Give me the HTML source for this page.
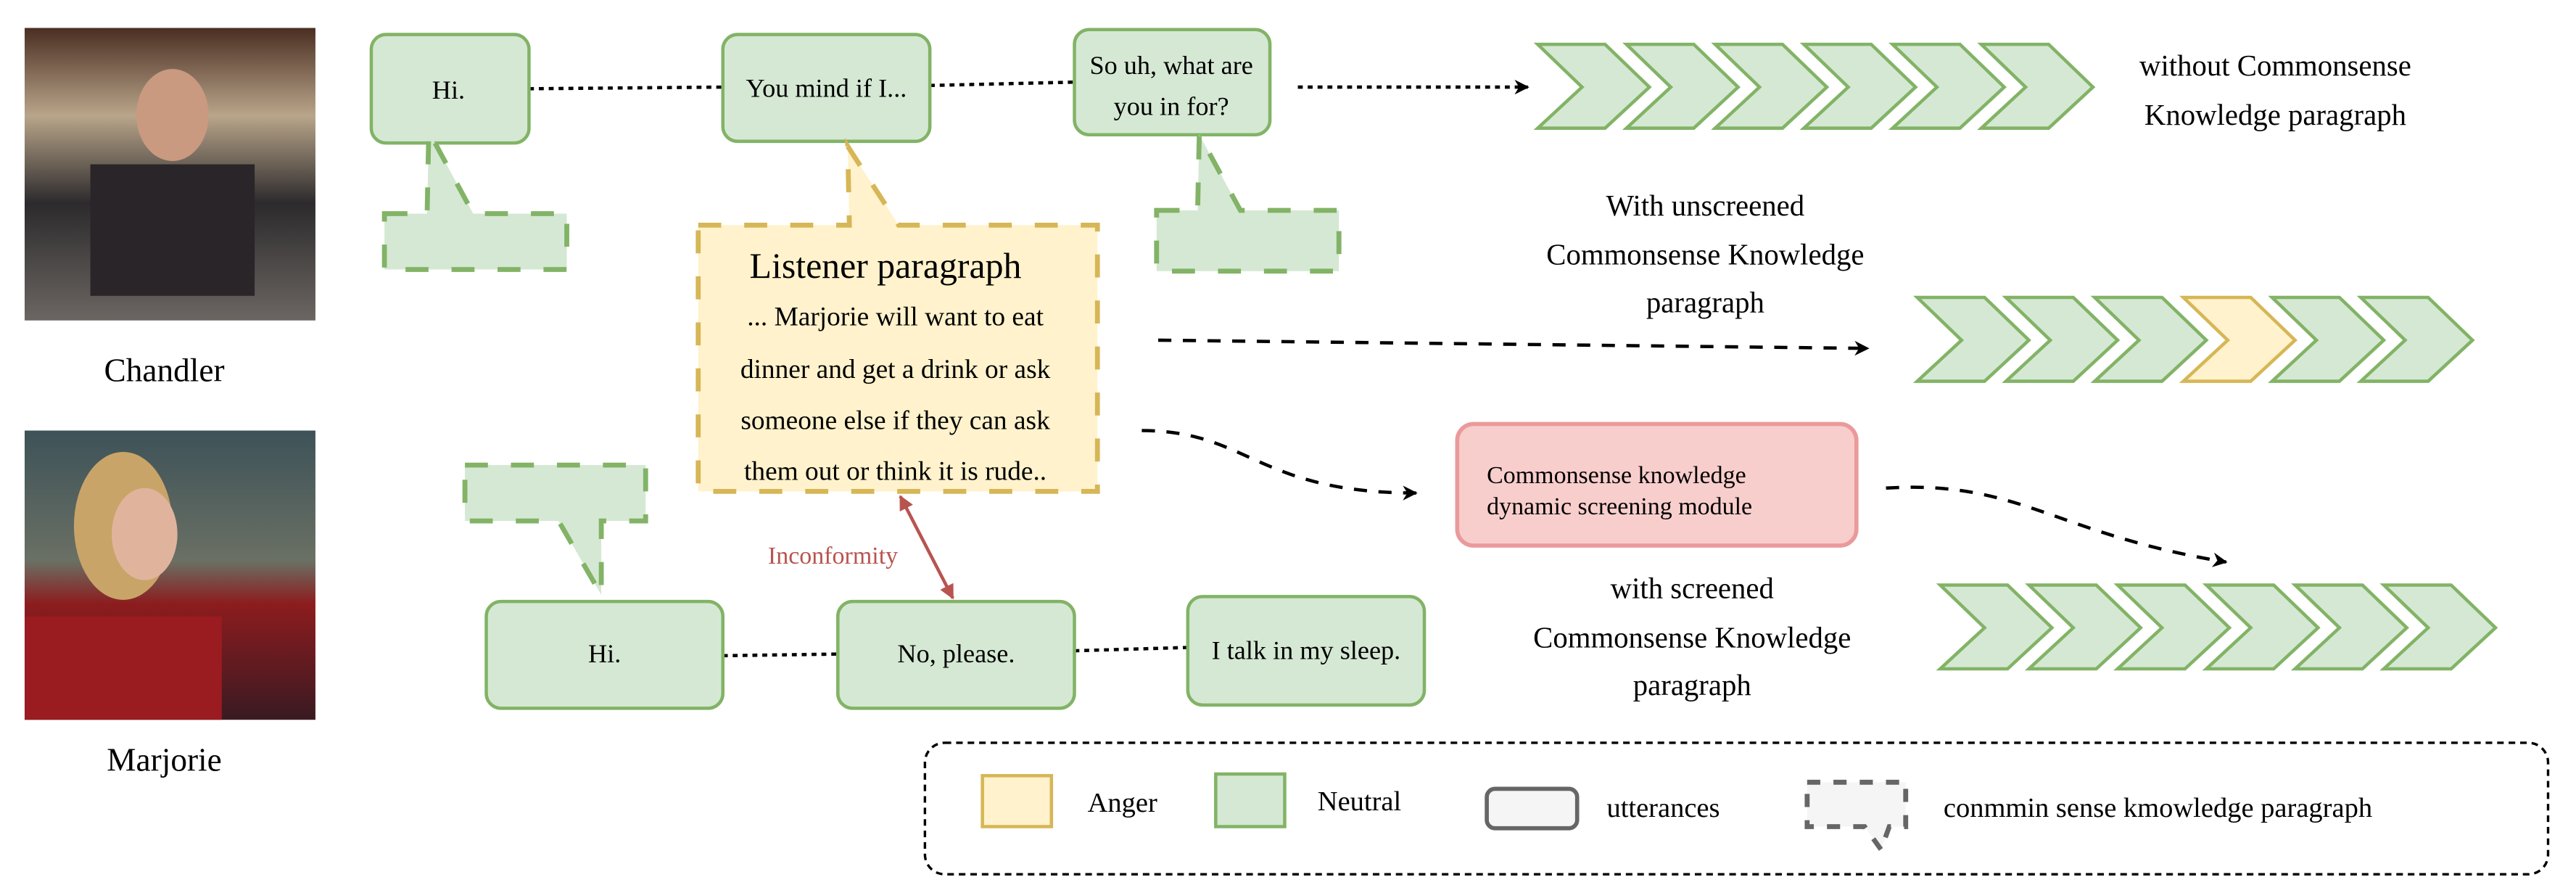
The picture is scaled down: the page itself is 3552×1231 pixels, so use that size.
<!DOCTYPE html>
<html><head><meta charset="utf-8"><style>
html,body{margin:0;padding:0;background:#fff;}
svg{display:block;font-family:"Liberation Serif","DejaVu Serif",serif;}
svg text{font-family:"Liberation Serif","DejaVu Serif",serif;}
</style></head><body>
<svg width="3552" height="1231" viewBox="0 0 1568 543.4" preserveAspectRatio="none" xmlns="http://www.w3.org/2000/svg" font-family="Liberation Serif, serif">
<defs>
<marker id="ah" viewBox="0 0 10 10" refX="9" refY="5" markerWidth="9" markerHeight="9" orient="auto" markerUnits="userSpaceOnUse"><path d="M0,0 L10,5 L0,10 L3,5 Z" fill="#000"/></marker>
<marker id="rh" viewBox="0 0 10 10" refX="9" refY="5" markerWidth="9" markerHeight="9" orient="auto-start-reverse" markerUnits="userSpaceOnUse"><path d="M0,0 L10,5 L0,10 Z" fill="#b85450"/></marker>
<linearGradient id="cg" x1="0" y1="0" x2="0" y2="1"><stop offset="0" stop-color="#4a2e22"/><stop offset="0.3" stop-color="#b9a58a"/><stop offset="0.6" stop-color="#2c2a2c"/><stop offset="1" stop-color="#6b6662"/></linearGradient>
<linearGradient id="mg" x1="0" y1="0" x2="0" y2="1"><stop offset="0" stop-color="#3d5258"/><stop offset="0.45" stop-color="#6a7064"/><stop offset="0.6" stop-color="#8c1c1e"/><stop offset="1" stop-color="#3a1a22"/></linearGradient>
<g id="chev"><path d="M0,0 L41,0 L68,26 L41,51 L0,51 L27,26 Z" stroke="#82b366" stroke-width="2" fill="#d5e8d4"/></g>
</defs>

<rect x="15" y="17" width="177" height="178" fill="url(#cg)"/>
<ellipse cx="105" cy="70" rx="22" ry="28" fill="#c99a80"/>
<rect x="55" y="100" width="100" height="80" fill="#2a2528"/>
<rect x="15" y="262" width="177" height="176" fill="url(#mg)"/>
<ellipse cx="75" cy="320" rx="30" ry="45" fill="#c9a468"/>
<ellipse cx="88" cy="325" rx="20" ry="28" fill="#e0b49c"/>
<rect x="15" y="375" width="120" height="63" fill="#9a1b20"/>
<text x="100" y="232" font-size="20" text-anchor="middle">Chandler</text>
<text x="100" y="469" font-size="20" text-anchor="middle">Marjorie</text>

<line x1="322" y1="54" x2="440" y2="53" stroke="#000" stroke-width="2" stroke-dasharray="3,3"/>
<line x1="566" y1="52" x2="653" y2="50" stroke="#000" stroke-width="2" stroke-dasharray="3,3"/>
<rect x="226" y="21" width="96" height="66" rx="9" fill="#d5e8d4" stroke="#82b366" stroke-width="2"/>
<text x="273" y="60" font-size="16" text-anchor="middle">Hi.</text>
<rect x="440" y="21" width="126" height="65" rx="9" fill="#d5e8d4" stroke="#82b366" stroke-width="2"/>
<text x="503" y="59" font-size="16" text-anchor="middle">You mind if I...</text>
<rect x="654" y="18" width="119" height="64" rx="9" fill="#d5e8d4" stroke="#82b366" stroke-width="2"/>
<text x="713" y="45" font-size="16" text-anchor="middle">So uh, what are</text>
<text x="713" y="70" font-size="16" text-anchor="middle">you in for?</text>

<path d="M234,130 L260,130 L261,80 L288,130 L345,130 L345,164 L234,164 Z" fill="#d5e8d4" stroke="#82b366" stroke-width="3" stroke-dasharray="14,14"/>
<path d="M704,128 L729,128 L730,82 L755,128 L815,128 L815,165 L704,165 Z" fill="#d5e8d4" stroke="#82b366" stroke-width="3" stroke-dasharray="14,14"/>
<path d="M283,283 L393,283 L393,317 L366,317 L366,362 L340,317 L283,317 Z" fill="#d5e8d4" stroke="#82b366" stroke-width="3" stroke-dasharray="14,14"/>

<path d="M425,137 L517,137 L516,89 L547,137 L668,137 L668,299 L425,299 Z" fill="#fff2cc" stroke="#d6b656" stroke-width="3" stroke-dasharray="14,14"/>
<text x="539" y="169" font-size="22" text-anchor="middle">Listener paragraph</text>
<text x="545" y="198" font-size="16.5" text-anchor="middle">... Marjorie will want to eat</text>
<text x="545" y="230" font-size="16.5" text-anchor="middle">dinner and get a drink or ask</text>
<text x="545" y="261" font-size="16.5" text-anchor="middle">someone else if they can ask</text>
<text x="545" y="292" font-size="16.5" text-anchor="middle">them out or think it is rude..</text>

<line x1="548" y1="302" x2="580" y2="364" stroke="#b85450" stroke-width="2" marker-start="url(#rh)" marker-end="url(#rh)"/>
<text x="507" y="343" font-size="15" text-anchor="middle" fill="#b85450">Inconformity</text>

<line x1="440" y1="399" x2="510" y2="398" stroke="#000" stroke-width="2" stroke-dasharray="3,3"/>
<line x1="654" y1="396" x2="723" y2="394" stroke="#000" stroke-width="2" stroke-dasharray="3,3"/>
<rect x="296" y="366" width="144" height="65" rx="9" fill="#d5e8d4" stroke="#82b366" stroke-width="2"/>
<text x="368" y="403" font-size="16" text-anchor="middle">Hi.</text>
<rect x="510" y="366" width="144" height="65" rx="9" fill="#d5e8d4" stroke="#82b366" stroke-width="2"/>
<text x="582" y="403" font-size="16" text-anchor="middle">No, please.</text>
<rect x="723" y="363" width="144" height="66" rx="9" fill="#d5e8d4" stroke="#82b366" stroke-width="2"/>
<text x="795" y="401" font-size="16" text-anchor="middle">I talk in my sleep.</text>

<line x1="790" y1="53" x2="930" y2="53" stroke="#000" stroke-width="2" stroke-dasharray="3,3" marker-end="url(#ah)"/>
<line x1="705" y1="207" x2="1137" y2="212" stroke="#000" stroke-width="2" stroke-dasharray="8,7" marker-end="url(#ah)"/>
<path d="M695,262 C760,262 765,300 862,300" fill="none" stroke="#000" stroke-width="2" stroke-dasharray="8,7" marker-end="url(#ah)"/>
<path d="M1148,297 C1230,292 1250,325 1355,342" fill="none" stroke="#000" stroke-width="2" stroke-dasharray="8,7" marker-end="url(#ah)"/>

<rect x="887" y="258" width="243" height="74" rx="10" fill="#f8cecc" stroke="#ea9a9a" stroke-width="2.5"/>
<text x="905" y="294" font-size="15">Commonsense knowledge</text>
<text x="905" y="313" font-size="15">dynamic screening module</text>

<g transform="translate(936,27)"><use href="#chev"/><use href="#chev" x="54"/><use href="#chev" x="108"/><use href="#chev" x="162"/><use href="#chev" x="216"/><use href="#chev" x="270"/></g>
<g transform="translate(1167,181)"><use href="#chev"/><use href="#chev" x="54"/><use href="#chev" x="108"/><g transform="translate(162,0)"><path d="M0,0 L41,0 L68,26 L41,51 L0,51 L27,26 Z" stroke="#d6b656" stroke-width="2" fill="#fff2cc"/></g><use href="#chev" x="216"/><use href="#chev" x="270"/></g>
<g transform="translate(1181,356)"><use href="#chev"/><use href="#chev" x="54"/><use href="#chev" x="108"/><use href="#chev" x="162"/><use href="#chev" x="216"/><use href="#chev" x="270"/></g>

<text x="1385" y="46" font-size="18" text-anchor="middle">without Commonsense</text>
<text x="1385" y="76" font-size="18" text-anchor="middle">Knowledge paragraph</text>
<text x="1038" y="131" font-size="18" text-anchor="middle">With unscreened</text>
<text x="1038" y="161" font-size="18" text-anchor="middle">Commonsense Knowledge</text>
<text x="1038" y="190" font-size="18" text-anchor="middle">paragraph</text>
<text x="1030" y="364" font-size="18" text-anchor="middle">with screened</text>
<text x="1030" y="394" font-size="18" text-anchor="middle">Commonsense Knowledge</text>
<text x="1030" y="423" font-size="18" text-anchor="middle">paragraph</text>

<rect x="563" y="452" width="988" height="80" rx="12" fill="none" stroke="#000" stroke-width="1.5" stroke-dasharray="4,3"/>
<rect x="598" y="472" width="42" height="31" fill="#fff2cc" stroke="#d6b656" stroke-width="2"/>
<text x="662" y="494" font-size="17">Anger</text>
<rect x="740" y="471" width="42" height="32" fill="#d5e8d4" stroke="#82b366" stroke-width="2"/>
<text x="802" y="493" font-size="17">Neutral</text>
<rect x="905" y="480" width="55" height="24" rx="5" fill="#f5f5f5" stroke="#666" stroke-width="2.5"/>
<text x="978" y="497" font-size="17">utterances</text>
<path d="M1100,476 L1160,476 L1160,503 L1150,503 L1145,517 L1135,503 L1100,503 Z" fill="#f5f5f5" stroke="#666" stroke-width="3" stroke-dasharray="8,8"/>
<text x="1183" y="497" font-size="17">conmmin sense kmowledge paragraph</text>
</svg>
</body></html>
